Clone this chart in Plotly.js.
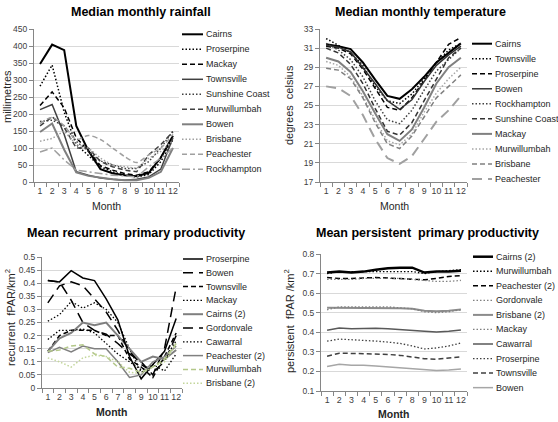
<!DOCTYPE html>
<html>
<head>
<meta charset="utf-8">
<script src="https://cdn.plot.ly/plotly-3.0.1.min.js"></script>
<style>html,body{margin:0;padding:0;background:#fff;}#chart{width:558px;height:422px;}</style>
</head>
<body>
<div id="chart"></div>
<script>
// ---------- DATA ----------
const months = [1,2,3,4,5,6,7,8,9,10,11,12];

// Median monthly rainfall (mm)
const rainNames = ["Cairns","Proserpine","Mackay","Townsville","Sunshine Coast","Murwillumbah","Bowen","Brisbane","Peachester","Rockhampton"];
const rainCairns        = [347,404,388,165,92,38,26,20,17,27,72,136];
const rainProserpine    = [282,344,205,110,78,45,30,20,15,22,60,125];
const rainMackay        = [225,265,218,130,92,48,35,25,20,30,72,132];
const rainTownsville    = [213,228,140,30,20,12,8,5,8,15,38,130];
const rainSunshineCoast = [178,182,165,120,90,62,50,40,40,60,100,150];
const rainMurwillumbah  = [165,192,160,100,100,60,45,35,30,80,110,148];
const rainBowen         = [147,172,95,28,18,12,8,5,5,12,30,100];
const rainBrisbane      = [120,128,150,110,100,70,50,45,40,70,90,122];
const rainPeachester    = [172,190,165,125,137,125,100,75,57,80,100,140];
const rainRockhampton   = [88,100,65,35,30,25,20,18,15,45,70,100];

// Median monthly temperature (degrees celsius)
const tempNames = ["Cairns","Townsville","Proserpine","Bowen","Rockhampton","Sunshine Coast","Mackay","Murwillumbah","Brisbane","Peachester"];
const tempCairns        = [31.4,31.2,30.9,29.5,27.7,26.0,25.7,26.7,28.0,29.5,30.5,31.5];
const tempTownsville    = [32.0,31.3,30.5,29.2,27.0,25.5,25.2,26.2,27.8,29.5,30.8,31.5];
const tempProserpine    = [31.2,31.0,30.4,28.8,26.8,24.8,24.5,25.8,27.6,29.5,31.4,32.1];
const tempBowen         = [31.3,31.1,30.6,29.0,27.3,25.5,24.6,25.6,27.5,29.2,30.3,31.2];
const tempRockhampton   = [31.5,30.8,29.8,28.0,25.5,23.5,23.1,24.5,26.6,28.6,29.8,31.0];
const tempSunshineCoast = [31.0,30.5,29.3,27.3,24.7,22.3,21.9,23.2,25.5,27.8,30.0,31.0];
const tempMackay        = [30.0,29.6,28.5,26.5,24.2,22.0,21.3,22.5,24.8,27.3,29.0,30.0];
const tempMurwillumbah  = [29.6,29.2,28.0,26.0,23.5,21.3,20.9,22.0,24.3,26.3,27.8,29.0];
const tempBrisbane      = [28.9,28.7,27.8,25.8,23.2,21.0,20.5,21.8,23.8,25.8,27.0,28.2];
const tempPeachester    = [27.0,26.8,26.0,24.0,21.5,19.5,18.9,19.7,21.5,23.3,24.5,26.0];

// Mean recurrent primary productivity (fPAR/km2)
const recNames = ["Proserpine","Bowen","Townsville","Mackay","Cairns (2)","Gordonvale","Cawarral","Peachester (2)","Murwillumbah","Brisbane (2)"];
const recProserpine   = [0.41,0.405,0.448,0.42,0.41,0.34,0.26,0.12,0.035,0.09,0.14,0.265];
const recBowen        = [0.41,0.405,0.335,0.25,0.22,0.205,0.17,0.13,0.10,0.05,0.15,0.385];
const recTownsville   = [0.14,0.20,0.22,0.22,0.22,0.20,0.20,0.11,0.08,0.04,0.12,0.21];
const recMackay       = [0.255,0.28,0.33,0.305,0.325,0.30,0.25,0.15,0.06,0.08,0.11,0.18];
const recCairns2      = [0.14,0.19,0.21,0.25,0.24,0.25,0.20,0.15,0.10,0.12,0.11,0.145];
const recGordonvale   = [0.325,0.39,0.405,0.39,0.34,0.29,0.22,0.14,0.09,0.06,0.10,0.20];
const recCawarral     = [0.185,0.22,0.22,0.225,0.21,0.17,0.13,0.10,0.07,0.09,0.065,0.13];
const recPeachester2  = [0.135,0.155,0.138,0.16,0.15,0.15,0.10,0.04,0.05,0.10,0.12,0.16];
const recMurwillumbah = [0.14,0.145,0.16,0.165,0.13,0.12,0.08,0.075,0.06,0.08,0.11,0.17];
const recBrisbane2    = [0.115,0.10,0.08,0.115,0.125,0.12,0.10,0.06,0.055,0.08,0.10,0.165];

// Mean persistent primary productivity (fPAR/km2)
const perNames = ["Cairns (2)","Murwillumbah","Peachester (2)","Gordonvale","Brisbane (2)","Mackay","Cawarral","Proserpine","Townsville","Bowen"];
const perCairns2      = [0.705,0.71,0.705,0.71,0.72,0.727,0.73,0.73,0.705,0.71,0.71,0.715];
const perMurwillumbah = [0.70,0.71,0.71,0.71,0.71,0.71,0.71,0.71,0.70,0.71,0.715,0.72];
const perPeachester2  = [0.68,0.675,0.675,0.677,0.68,0.677,0.675,0.672,0.668,0.675,0.685,0.69];
const perGordonvale   = [0.67,0.67,0.67,0.675,0.675,0.675,0.675,0.67,0.665,0.66,0.66,0.665];
const perBrisbane2    = [0.525,0.525,0.525,0.525,0.525,0.525,0.523,0.52,0.51,0.508,0.51,0.517];
const perMackay       = [0.515,0.53,0.53,0.53,0.53,0.53,0.525,0.52,0.505,0.50,0.505,0.515];
const perCawarral     = [0.41,0.422,0.418,0.42,0.42,0.418,0.413,0.41,0.405,0.402,0.405,0.412];
const perProserpine   = [0.355,0.365,0.362,0.36,0.355,0.35,0.343,0.33,0.315,0.32,0.33,0.345];
const perTownsville   = [0.278,0.293,0.292,0.29,0.29,0.287,0.282,0.275,0.265,0.262,0.268,0.275];
const perBowen        = [0.225,0.237,0.232,0.232,0.228,0.224,0.22,0.215,0.21,0.205,0.207,0.212];

// ---------- STYLES ----------
const rainValues = [rainCairns,rainProserpine,rainMackay,rainTownsville,rainSunshineCoast,rainMurwillumbah,rainBowen,rainBrisbane,rainPeachester,rainRockhampton];
const tempValues = [tempCairns,tempTownsville,tempProserpine,tempBowen,tempRockhampton,tempSunshineCoast,tempMackay,tempMurwillumbah,tempBrisbane,tempPeachester];
const recValues  = [recProserpine,recBowen,recTownsville,recMackay,recCairns2,recGordonvale,recCawarral,recPeachester2,recMurwillumbah,recBrisbane2];
const perValues  = [perCairns2,perMurwillumbah,perPeachester2,perGordonvale,perBrisbane2,perMackay,perCawarral,perProserpine,perTownsville,perBowen];

const DOT = '1.5px,2px', DASH = '5px,3px', LDASH = '10px,6px', DDOT = '8px,3px,2px,3px';
const rainStyles = [
  {color:'#000000',dash:'solid',width:2},
  {color:'#000000',dash:DOT,width:1.5},
  {color:'#000000',dash:DASH,width:1.5},
  {color:'#404040',dash:'solid',width:1.5},
  {color:'#404040',dash:DOT,width:1.5},
  {color:'#404040',dash:DASH,width:1.5},
  {color:'#808080',dash:'solid',width:2},
  {color:'#a0a0a0',dash:DOT,width:1.5},
  {color:'#a0a0a0',dash:DASH,width:1.5,shape:'spline'},
  {color:'#a0a0a0',dash:DDOT,width:1.5}
];
const tempStyles = [
  {color:'#000000',dash:'solid',width:2},
  {color:'#000000',dash:DOT,width:1.5},
  {color:'#000000',dash:DASH,width:1.5},
  {color:'#333333',dash:'solid',width:1.5},
  {color:'#404040',dash:DOT,width:1.5},
  {color:'#333333',dash:DASH,width:1.5},
  {color:'#808080',dash:'solid',width:2},
  {color:'#a6a6a6',dash:DOT,width:1.5},
  {color:'#808080',dash:DASH,width:1.5},
  {color:'#a0a0a0',dash:LDASH,width:2}
];
const recStyles = [
  {color:'#000000',dash:'solid',width:1.5},
  {color:'#000000',dash:LDASH,width:1.5},
  {color:'#000000',dash:DASH,width:1.5},
  {color:'#000000',dash:DOT,width:1.3},
  {color:'#7f7f7f',dash:'solid',width:2},
  {color:'#000000',dash:LDASH,width:1.5},
  {color:'#000000',dash:DOT,width:1.3},
  {color:'#808080',dash:'solid',width:1.5},
  {color:'#b4c88a',dash:DASH,width:1.5},
  {color:'#c3d69b',dash:DOT,width:1.5}
];
const perStyles = [
  {color:'#000000',dash:'solid',width:2.5},
  {color:'#000000',dash:DOT,width:1.3},
  {color:'#000000',dash:DASH,width:1.5},
  {color:'#808080',dash:DOT,width:1.3},
  {color:'#8c8c8c',dash:'solid',width:2},
  {color:'#808080',dash:DOT,width:1.3},
  {color:'#595959',dash:'solid',width:1.5},
  {color:'#404040',dash:DOT,width:1.3},
  {color:'#404040',dash:DASH,width:1.5},
  {color:'#a6a6a6',dash:'solid',width:1.5}
];

// ---------- BUILD ----------
const W = 558, H = 422;
const FONT = 'Liberation Sans, Arial, sans-serif';
const px = v => v / W;
const py = v => 1 - v / H;

const traces = [];
function addSeries(names, values, styles, xa, ya) {
  names.forEach((n, i) => {
    const s = styles[i];
    traces.push({
      type: 'scatter', mode: 'lines', x: months, y: values[i], name: n,
      xaxis: xa, yaxis: ya, hoverinfo: 'skip',
      line: {color: s.color, dash: s.dash, width: s.width, shape: s.shape || 'linear', smoothing: 0.8}
    });
  });
}
addSeries(rainNames, rainValues, rainStyles, 'x', 'y');
addSeries(tempNames, tempValues, tempStyles, 'x2', 'y2');
addSeries(recNames, recValues, recStyles, 'x3', 'y3');
addSeries(perNames, perValues, perStyles, 'x4', 'y4');

const shapes = [];
const annotations = [];
function addLegend(names, styles, x0, x1, xt, yStart, step) {
  names.forEach((n, i) => {
    const s = styles[i];
    const y = py(yStart + i * step);
    shapes.push({type:'line', xref:'paper', yref:'paper', x0:px(x0), x1:px(x1), y0:y, y1:y,
      line:{color:s.color, dash:s.dash, width:s.width}});
    annotations.push({xref:'paper', yref:'paper', x:px(xt), y:y, xanchor:'left', yanchor:'middle',
      text:n, showarrow:false, font:{family:FONT, size:9, color:'#262626'}});
  });
}
addLegend(rainNames, rainStyles, 182, 203, 204, 34.3, 15.0);
addLegend(tempNames, tempStyles, 472, 492, 493, 43.7, 15.03);
addLegend(recNames, recStyles, 183, 203, 204, 259, 13.8);
addLegend(perNames, perStyles, 473, 493, 494, 256.7, 14.55);

function txt(text, x, y, size, bold, angle, color) {
  annotations.push({xref:'paper', yref:'paper', x:px(x), y:py(y), xanchor:'center', yanchor:'middle',
    text: bold ? '<b>' + text + '</b>' : text, showarrow:false, textangle: angle || 0,
    font:{family:FONT, size:size, color: color || '#000000'}});
}
txt('Median monthly rainfall', 141, 12, 12.5, true);
txt('Median monthly temperature', 420, 12, 12.5, true);
txt('Mean recurrent  primary productivity', 136, 233, 12.5, true);
txt('Mean persistent  primary productivity', 427, 233, 12.5, true);
txt('millimetres', 7, 97, 11, false, -90, '#262626');
txt('degrees  celsius', 289, 105, 11, false, -90, '#262626');
txt('recurrent  fPAR/km<sup>2</sup>', 10, 318, 11, false, -90, '#262626');
txt('persistent  fPAR /km<sup>2</sup>', 289, 321, 11, false, -90, '#262626');
txt('Month', 106, 206, 10.5, false, 0, '#262626');
txt('Month', 394, 206, 10.5, false, 0, '#262626');
txt('Month', 112, 412, 10.5, true, 0, '#262626');
txt('Month', 394, 414, 10.5, true, 0, '#262626');

const boundaries = [0.5,1.5,2.5,3.5,4.5,5.5,6.5,7.5,8.5,9.5,10.5,11.5,12.5];
function xAxis(d0, d1, anchor) {
  return {domain:[px(d0), px(d1)], anchor: anchor, range:[0.5,12.5], tickmode:'array', tickvals: months,
    ticks:'', tickangle:0, showline:true, linecolor:'#868686', linewidth:1, showgrid:false, zeroline:false,
    tickfont:{family:FONT, size:8.8, color:'#404040'}, fixedrange:true,
    minor:{tickmode:'array', tickvals: boundaries, ticks:'outside', ticklen:4, tickcolor:'#868686', showgrid:false}};
}
function yAxis(top, bottom, range, dtick, anchor) {
  return {domain:[py(bottom), py(top)], anchor: anchor, range: range, tick0: range[0], dtick: dtick,
    showline:true, linecolor:'#868686', linewidth:1, ticks:'outside', ticklen:4, tickcolor:'#868686',
    showgrid:true, gridcolor:'#d9d9d9', gridwidth:1, zeroline:false,
    tickfont:{family:FONT, size:8.5, color:'#404040'}, fixedrange:true};
}

const layout = {
  width: W, height: H, margin:{l:0, r:0, t:0, b:0}, showlegend:false,
  paper_bgcolor:'#ffffff', plot_bgcolor:'#ffffff',
  font:{family:FONT},
  xaxis: xAxis(34, 179, 'y'),
  yaxis: yAxis(29, 182, [0,450], 50, 'x'),
  xaxis2: xAxis(320, 467, 'y2'),
  yaxis2: yAxis(29, 182, [17,33], 2, 'x2'),
  xaxis3: xAxis(42, 182, 'y3'),
  yaxis3: yAxis(257, 388, [0,0.5], 0.05, 'x3'),
  xaxis4: xAxis(321, 467, 'y4'),
  yaxis4: yAxis(254, 391, [0.1,0.8], 0.1, 'x4'),
  shapes: shapes,
  annotations: annotations
};

Plotly.newPlot('chart', traces, layout, {staticPlot:true, displayModeBar:false});
</script>
</body>
</html>
